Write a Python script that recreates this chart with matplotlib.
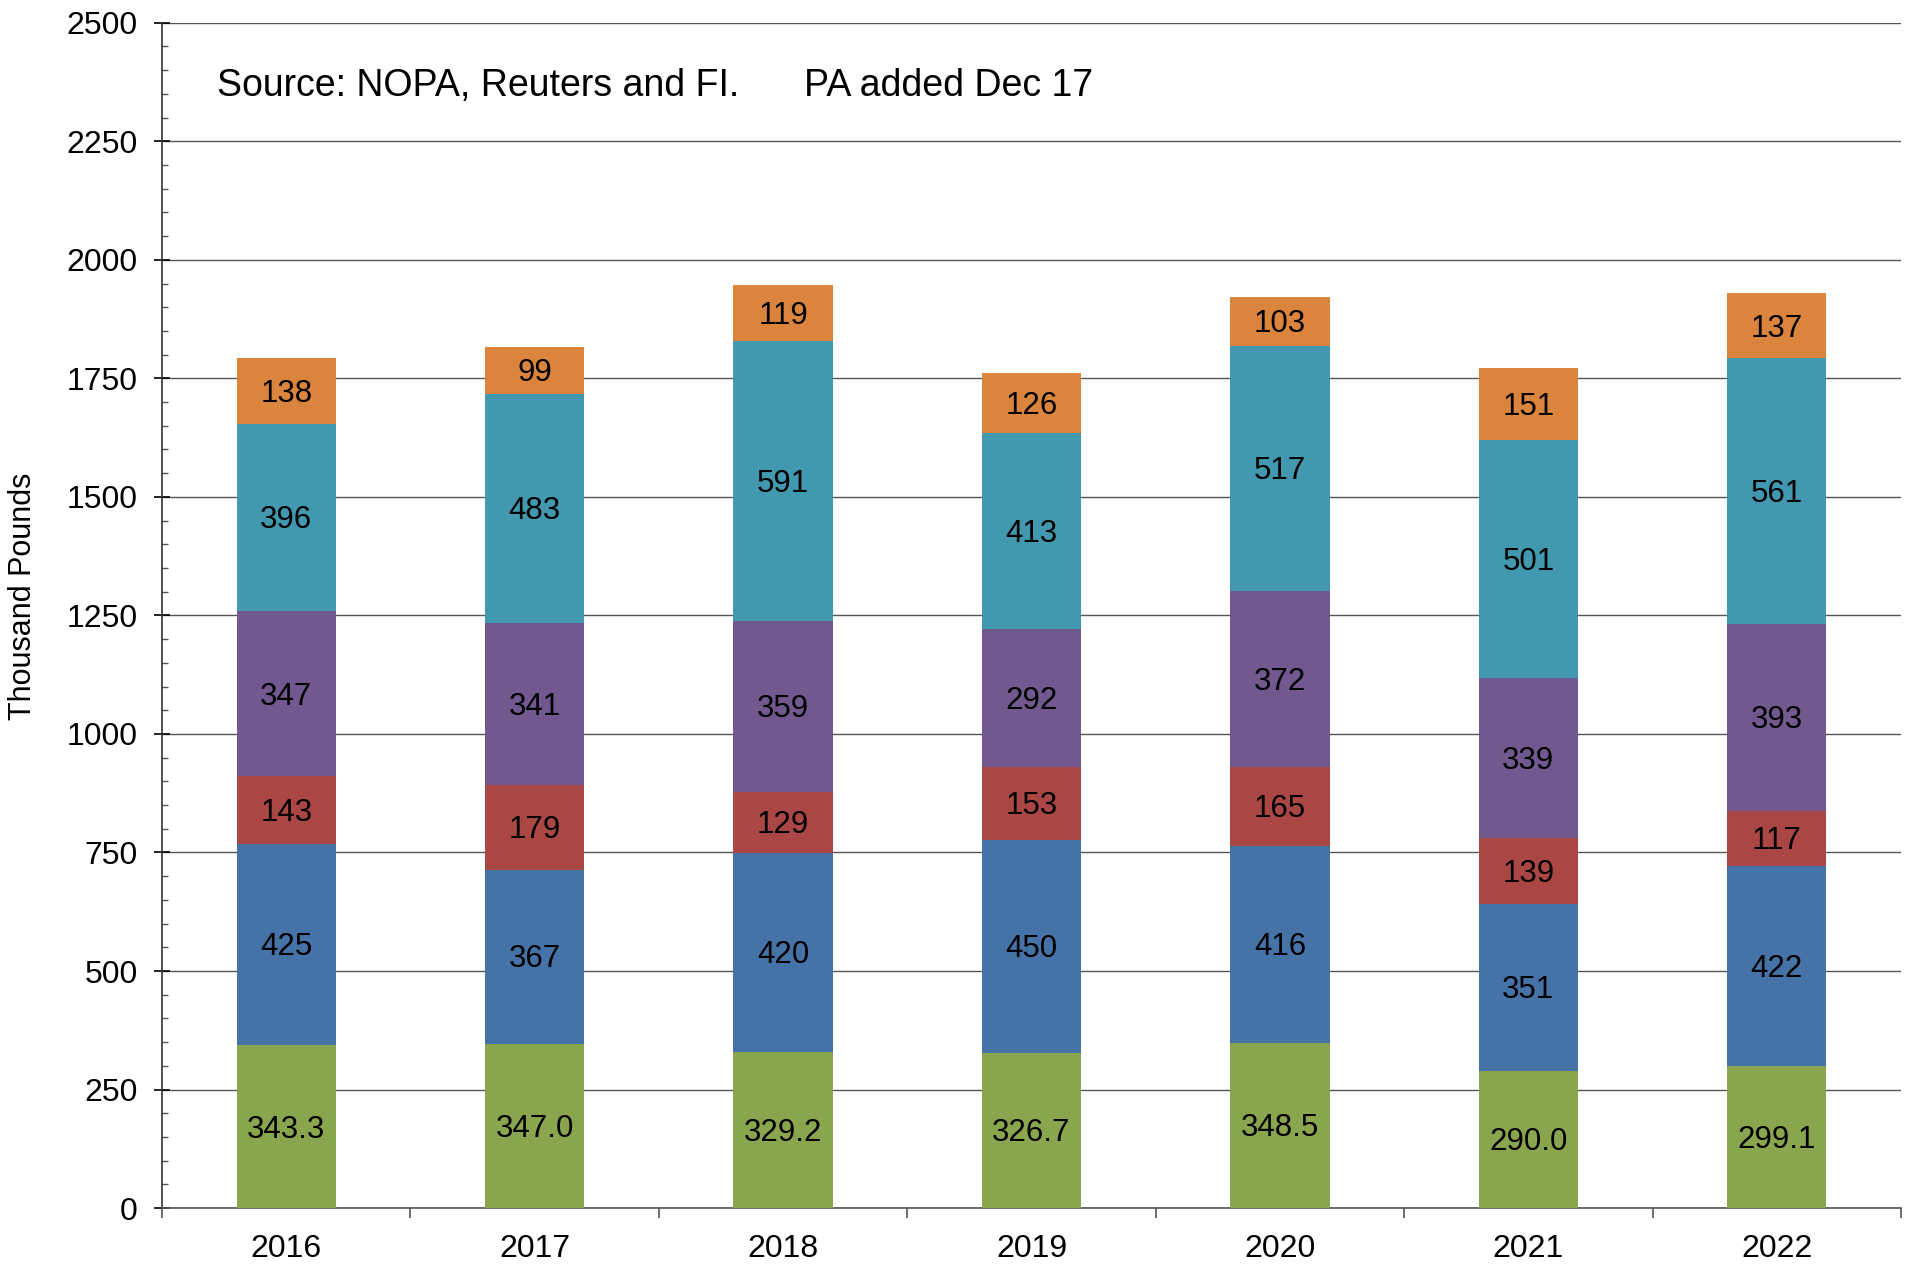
import numpy as np
import matplotlib.pyplot as plt
from matplotlib.ticker import MultipleLocator, FixedLocator

years = ['2016', '2017', '2018', '2019', '2020', '2021', '2022']
green = [343.3, 347.0, 329.2, 326.7, 348.5, 290.0, 299.1]
blue = [425, 367, 420, 450, 416, 351, 422]
red = [143, 179, 129, 153, 165, 139, 117]
purple = [347, 341, 359, 292, 372, 339, 393]
teal = [396, 483, 591, 413, 517, 501, 561]
orange = [138, 99, 119, 126, 103, 151, 137]

series = [(green, '#89A54E', '{:.1f}'),
          (blue, '#4572A7', '{:.0f}'),
          (red, '#AA4643', '{:.0f}'),
          (purple, '#71588F', '{:.0f}'),
          (teal, '#4198AF', '{:.0f}'),
          (orange, '#DB843D', '{:.0f}')]


def main():
    plt.rcParams['font.family'] = ['Liberation Sans', 'DejaVu Sans']
    fig = plt.figure(figsize=(19.13, 12.65), dpi=100)
    ax = fig.add_axes([0.0847, 0.045, 0.9090, 0.937])

    x = np.arange(len(years))
    bottom = np.zeros(len(years))
    for vals, col, fmt in series:
        vals = np.array(vals, dtype=float)
        ax.bar(x, vals, 0.4, bottom=bottom, color=col, edgecolor='none', zorder=3)
        for xi, b, v in zip(x, bottom, vals):
            ax.text(xi, b + v / 2 - 6, fmt.format(v), ha='center', va='center',
                    fontsize=22.5, color='black', zorder=4)
        bottom += vals

    ax.set_xlim(-0.5, len(years) - 0.5)
    ax.set_ylim(0, 2500)
    ax.yaxis.set_major_locator(MultipleLocator(250))
    ax.yaxis.set_minor_locator(MultipleLocator(50))
    ax.grid(axis='y', which='major', color='#555555', linewidth=1.0, zorder=0)

    ax.set_xticks(x)
    ax.set_xticklabels(years)
    ax.xaxis.set_minor_locator(FixedLocator(np.arange(-0.5, len(years), 1.0)))
    ax.tick_params(axis='x', which='major', length=0, labelsize=23, pad=19)
    ax.tick_params(axis='x', which='minor', length=7, width=1.2, color='#555555', direction='out')
    ax.tick_params(axis='y', which='major', length=11, width=1.2, direction='inout', labelsize=23, pad=12)
    ax.tick_params(axis='y', which='minor', length=4, width=1.0, direction='in', color='#555555')

    for s in ['top', 'right']:
        ax.spines[s].set_visible(False)
    ax.spines['left'].set_color('#333333')
    ax.spines['bottom'].set_color('#555555')
    ax.spines['left'].set_linewidth(1.2)
    ax.spines['bottom'].set_linewidth(1.2)

    ax.set_ylabel('Thousand Pounds', fontsize=22)
    ax.yaxis.set_label_coords(-0.0713, 0.516)

    ax.text(-0.28, 2366, 'Source: NOPA, Reuters and FI.', fontsize=27, va='center', ha='left')
    ax.text(2.085, 2366, 'PA added Dec 17', fontsize=27, va='center', ha='left')

    fig.savefig('out.png', dpi=100)


if __name__ == '__main__':
    main()
